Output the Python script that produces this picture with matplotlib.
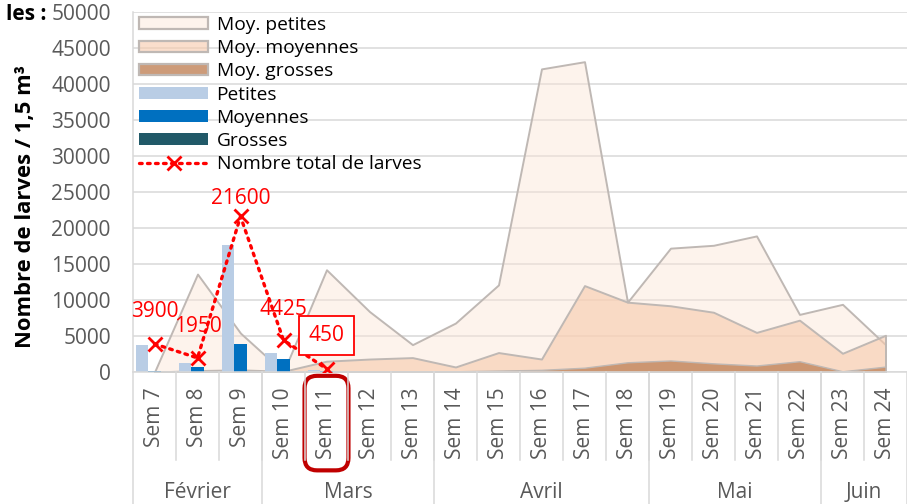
import numpy as np
import matplotlib
matplotlib.use('Agg')
import matplotlib.pyplot as plt
import matplotlib.transforms as mtransforms
from matplotlib.patches import Patch
from matplotlib.lines import Line2D
from matplotlib.colors import to_rgba

plt.rcParams['font.family'] = ['Open Sans', 'DejaVu Sans']

# Données
semaines = ['Sem 7', 'Sem 8', 'Sem 9', 'Sem 10', 'Sem 11', 'Sem 12', 'Sem 13', 'Sem 14', 'Sem 15',
            'Sem 16', 'Sem 17', 'Sem 18', 'Sem 19', 'Sem 20', 'Sem 21', 'Sem 22', 'Sem 23', 'Sem 24']
mois = ['Février', 'Mars', 'Avril', 'Mai', 'Juin']
nb_sem_mois = [3, 4, 5, 4, 2]

# moyennes des années précédentes (aires)
moy_petites = [0, 13600, 5400, 0, 14200, 8400, 3800, 6800, 12100,
               42100, 43100, 9700, 17200, 17600, 18900, 8000, 9400, 3800]
moy_moyennes = [0, 200, 300, 100, 1500, 1800, 2000, 700, 2700,
                1800, 12000, 9700, 9200, 8300, 5500, 7200, 2600, 5100]
moy_grosses = [0, 0, 0, 0, 50, 100, 100, 100, 200,
               300, 600, 1350, 1600, 1200, 900, 1500, 100, 750]

# année en cours (barres) - Sem 7 à Sem 11
petites = [3800, 1200, 17700, 2600, 300]
moyennes = [100, 750, 3900, 1800, 150]
grosses = [0, 0, 0, 25, 0]
total = [3900, 1950, 21600, 4425, 450]
total_labels = ['3900', '1950', '21600', '4425', '450']

fig = plt.figure(figsize=(9.07, 5.04), dpi=100)
ax = fig.add_axes([133 / 907, 132 / 504, 774 / 907, 360 / 504])

x = np.arange(len(semaines))
edge = '#BFB8B4'

ax.fill_between(x, moy_petites, facecolor=to_rgba('#FBE5D6', 0.45), edgecolor=edge, lw=1.4, zorder=1)
ax.fill_between(x, moy_moyennes, facecolor=to_rgba('#F8CBAD', 0.62), edgecolor=edge, lw=1.4, zorder=1.1)
ax.fill_between(x, moy_grosses, facecolor=to_rgba('#C58A62', 0.85), edgecolor=edge, lw=1.0, zorder=1.2)

xb = x[:len(petites)]
w = 0.285
ax.bar(xb - w, petites, w, color='#B9CDE5', zorder=2)
ax.bar(xb, moyennes, w, color='#0070C0', zorder=2)
ax.bar(xb + w, grosses, w, color='#215968', zorder=2)

ax.plot(xb, total, color='red', ls=(0, (0.8, 1.6)), lw=2.4, dash_capstyle='round',
        marker='x', ms=10, mew=2, zorder=3)

offsets = [23, 23, 13, 22, 24]
for i, (v, lab) in enumerate(zip(total, total_labels)):
    kw = {}
    if lab == '450':
        kw['bbox'] = dict(boxstyle='square,pad=0.45', fc='white', ec='red', lw=1.3)
    ax.annotate(lab, (xb[i], v), xytext=(0, offsets[i]), textcoords='offset points',
                ha='center', va='center', color='red', fontsize=15, zorder=4, **kw)

ax.set_xlim(-0.5, len(semaines) - 0.5)
ax.set_ylim(0, 50000)
ax.set_yticks(np.arange(0, 50001, 5000))
ax.set_yticklabels([str(v) for v in range(0, 50001, 5000)])
ax.yaxis.grid(True, color='#D9D9D9', lw=1.1)
ax.set_axisbelow(True)
for s in ['top', 'right', 'left']:
    ax.spines[s].set_visible(False)
ax.spines['bottom'].set_color('#D9D9D9')
ax.spines['bottom'].set_linewidth(1.1)

ax.tick_params(axis='y', length=0, pad=16, labelsize=15, labelcolor='#595959')
ax.set_xticks(x)
ax.set_xticklabels(semaines, rotation=90)
ax.tick_params(axis='x', length=0, pad=11, labelsize=15, labelcolor='#595959')

# Sem 11 encadrée
for t in ax.get_xticklabels():
    if t.get_text() == 'Sem 11':
        t.set_bbox(dict(boxstyle='round,pad=0.55,rounding_size=0.6', fc='none', ec='#C00000', lw=3))

# axe des catégories à deux niveaux
trans = mtransforms.blended_transform_factory(ax.transData, ax.transAxes)
for i in range(1, len(semaines)):
    ax.plot([i - 0.5, i - 0.5], [0, -0.245], transform=trans, color='#D9D9D9', lw=1.1, clip_on=False)
bornes = np.concatenate([[0], np.cumsum(nb_sem_mois)]) - 0.5
for b in bornes:
    ax.plot([b, b], [0, -0.37], transform=trans, color='#D9D9D9', lw=1.1, clip_on=False)
ax.plot([-0.5, -0.5], [0, 1], transform=trans, color='#D9D9D9', lw=1.1, clip_on=False)
for m, a, b in zip(mois, bornes[:-1], bornes[1:]):
    ax.text((a + b) / 2, -0.336, m, transform=trans, ha='center', va='center',
            fontsize=15, color='#595959')

fig.text(26 / 907, 1 - 206 / 504, 'Nombre de larves / 1,5 m³', rotation=90, ha='center', va='center',
         fontsize=15.8, fontweight='bold')
fig.text(47 / 907, 1 - 14 / 504, 'les :', ha='right', va='center', fontsize=15, fontweight='bold')

handles = [
    Patch(facecolor=to_rgba('#FBE5D6', 0.45), edgecolor=edge, lw=1.6),
    Patch(facecolor=to_rgba('#F8CBAD', 0.62), edgecolor=edge, lw=1.6),
    Patch(facecolor=to_rgba('#C58A62', 0.85), edgecolor=edge, lw=1.6),
    Patch(facecolor='#B9CDE5'),
    Patch(facecolor='#0070C0'),
    Patch(facecolor='#215968'),
    Line2D([], [], color='red', ls=(0, (0.8, 1.6)), lw=2.4, dash_capstyle='round', marker='x', ms=10, mew=2),
]
labels = ['Moy. petites', 'Moy. moyennes', 'Moy. grosses', 'Petites', 'Moyennes', 'Grosses',
          'Nombre total de larves']
fig.legend(handles, labels, loc='upper left', bbox_to_anchor=(139 / 907, 1 - 16 / 504), frameon=False,
           fontsize=13.8, handlelength=3.6, handleheight=0.55, labelspacing=0.27, borderpad=0,
           borderaxespad=0, handletextpad=0.45)

fig.savefig('out.png', dpi=100)
